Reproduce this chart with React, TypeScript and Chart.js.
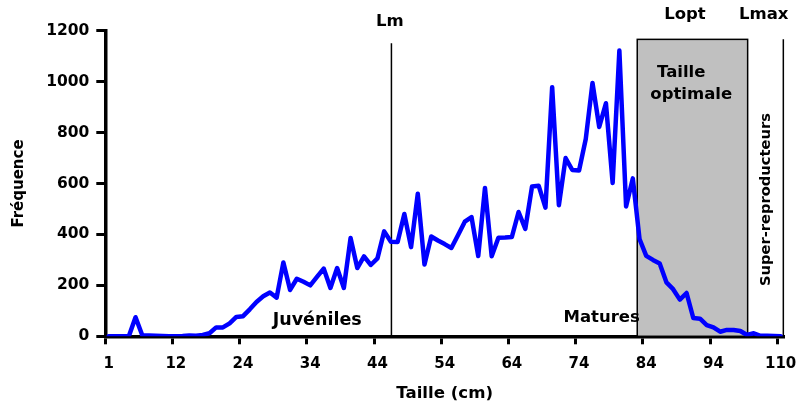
import React, { useEffect, useRef } from "react";
import { Chart, registerables } from "chart.js";

Chart.register(...registerables);

// Size classes (cm) – one category per class; only every 10th is labelled
const sizeCategories = [
  1, 2, 3, 4, 5, 6, 7, 8, 9, 10, 12,
  13, 14, 15, 16, 17, 18, 19, 20, 22, 24,
  25, 26, 27, 28, 29, 30, 31, 32, 33, 34,
  35, 36, 37, 38, 39, 40, 41, 42, 43, 44,
  45, 46, 47, 48, 49, 50, 51, 52, 53, 54,
  55, 56, 57, 58, 59, 60, 61, 62, 63, 64,
  65, 66, 67, 68, 69, 70, 71, 72, 73, 74,
  75, 76, 77, 78, 79, 80, 81, 82, 83, 84,
  85, 86, 87, 88, 89, 90, 91, 92, 93, 94,
  95, 96, 97, 98, 99, 100, 102, 104, 106, 110,
];

// Frequencies per size class
const frequencies = [
  0, 0, 0, 0, 75, 4, 3, 2, 1, 0,
  0, 1, 3, 2, 5, 12, 35, 35, 51, 76,
  79, 106, 135, 157, 172, 152, 290, 182, 226, 214,
  200, 233, 266, 190, 268, 190, 386, 268, 314, 280,
  306, 412, 371, 370, 480, 350, 560, 282, 392, 376,
  362, 347, 398, 450, 468, 315, 582, 314, 387, 388,
  390, 488, 422, 588, 591, 505, 978, 515, 700, 653,
  651, 775, 995, 822, 915, 602, 1122, 510, 620, 382,
  316, 300, 286, 212, 185, 144, 170, 72, 69, 44,
  35, 18, 25, 25, 21, 5, 12, 2, 2, 1,
  0,
];

const labelEvery = 10;
const yTickMax = 1200;
const yTickStep = 200;

// Reference marks (category index units / frequency units)
const lmPosition = 42.08;
const lmTop = 1151;
const optimalRange = [78.66, 95.09];
const optimalTop = 1166;
const lmaxPosition = 100.4;
const lmaxTop = 1166;

// Annotation texts: [text, categoryIndex, frequency, fontSize, rotated]
const annotationTexts: [string, number, number, number, boolean][] = [
  ["Lm", 41.86, 1218, 16.5, false],
  ["Lopt", 85.76, 1244, 16.5, false],
  ["Lmax", 97.49, 1244, 16.5, false],
  ["Taille", 85.21, 1019, 16.5, false],
  ["optimale", 86.7, 930, 16.5, false],
  ["Juvéniles", 31.03, 44, 17.5, false],
  ["Matures", 73.36, 57, 16.5, false],
  ["Super-reproducteurs", 98.41, 537, 14.7, true],
];

const FONT = "'DejaVu Sans', sans-serif";

const markersPlugin = {
  id: "markers",
  beforeDatasetsDraw(chart: any) {
    const { ctx, scales } = chart;
    const x = scales.x;
    const y = scales.y;
    const y0 = y.getPixelForValue(0);
    ctx.save();
    const bx0 = x.getPixelForValue(optimalRange[0]);
    const bx1 = x.getPixelForValue(optimalRange[1]);
    const by = y.getPixelForValue(optimalTop);
    ctx.fillStyle = "#C0C0C0";
    ctx.fillRect(bx0, by, bx1 - bx0, y0 - by);
    ctx.strokeStyle = "#000000";
    ctx.lineWidth = 1.5;
    ctx.strokeRect(bx0, by, bx1 - bx0, y0 - by);

    ctx.beginPath();
    const lmx = x.getPixelForValue(lmPosition);
    ctx.moveTo(lmx, y.getPixelForValue(lmTop));
    ctx.lineTo(lmx, y0);
    const lmaxx = x.getPixelForValue(lmaxPosition);
    ctx.moveTo(lmaxx, y.getPixelForValue(lmaxTop));
    ctx.lineTo(lmaxx, y0);
    ctx.stroke();
    ctx.restore();
  },
  afterDatasetsDraw(chart: any) {
    const { ctx, scales } = chart;
    const x = scales.x;
    const y = scales.y;
    ctx.save();
    ctx.fillStyle = "#000000";
    ctx.textAlign = "center";
    ctx.textBaseline = "alphabetic";
    for (const [text, xi, yv, size, rotated] of annotationTexts) {
      ctx.font = `bold ${size}px ${FONT}`;
      const px = x.getPixelForValue(xi);
      const py = y.getPixelForValue(yv);
      if (rotated) {
        ctx.save();
        ctx.translate(px, py);
        ctx.rotate(-Math.PI / 2);
        ctx.fillText(text, 0, 0);
        ctx.restore();
      } else {
        ctx.fillText(text, px, py);
      }
    }
    ctx.restore();
  },
};

export default function App() {
  const canvasRef = useRef<HTMLCanvasElement | null>(null);

  useEffect(() => {
    if (!canvasRef.current) return;
    const shown = (i: any) => typeof i === "number" && i % labelEvery === 0;
    const chart = new Chart(canvasRef.current, {
      type: "line",
      data: {
        labels: sizeCategories.map(String),
        datasets: [
          {
            data: frequencies,
            borderColor: "#0000FF",
            borderWidth: 4.5,
            pointRadius: 0,
            tension: 0,
            fill: false,
            borderJoinStyle: "round",
            borderCapStyle: "round",
          },
        ],
      },
      options: {
        animation: false,
        responsive: false,
        devicePixelRatio: 1,
        layout: { padding: { top: 30.7, right: 12, bottom: 0, left: 0 } },
        plugins: {
          legend: { display: false },
          tooltip: { enabled: false },
        },
        scales: {
          x: {
            type: "category",
            offset: true,
            grid: {
              offset: true,
              drawOnChartArea: false,
              drawTicks: true,
              tickLength: 8,
              tickWidth: 3,
              tickColor: (c: any) => (shown(c.index) ? "#000000" : "rgba(0,0,0,0)"),
            },
            border: { display: true, color: "#000000", width: 3.5 },
            ticks: {
              autoSkip: false,
              maxRotation: 0,
              minRotation: 0,
              padding: 11,
              color: "#000000",
              font: { family: FONT, size: 15, weight: "bold" },
              callback: function (this: any, value: any, index: number) {
                return shown(index) ? this.getLabelForValue(value) : "";
              },
            },
            title: {
              display: true,
              text: "Taille (cm)",
              color: "#000000",
              font: { family: FONT, size: 16.6, weight: "bold" },
              padding: { top: 0, bottom: 2.7 },
            },
            afterFit: (s: any) => {
              s.height = 69.7;
              s.paddingLeft = 0;
              s.paddingRight = 0;
            },
          },
          y: {
            type: "linear",
            min: 0,
            max: yTickMax,
            grid: {
              drawOnChartArea: false,
              drawTicks: true,
              tickLength: 9,
              tickWidth: 3,
              tickColor: "#000000",
            },
            border: { display: true, color: "#000000", width: 3.5 },
            ticks: {
              stepSize: yTickStep,
              padding: 7,
              color: "#000000",
              font: { family: FONT, size: 15.5, weight: "bold" },
              callback: (value: any) => String(value),
            },
            title: {
              display: true,
              text: "Fréquence",
              color: "#000000",
              font: { family: FONT, size: 15, weight: "bold" },
              padding: { top: 10.5, bottom: 0 },
            },
            afterFit: (s: any) => {
              s.width = 105.3;
              s.paddingTop = 0;
              s.paddingBottom = 0;
            },
          },
        },
      },
      plugins: [markersPlugin],
    } as any);
    return () => chart.destroy();
  }, []);

  return (
    <div style={{ position: "absolute", left: 0, top: 0, width: 796, height: 406, background: "#ffffff" }}>
      <canvas ref={canvasRef} width={796} height={406} />
    </div>
  );
}
